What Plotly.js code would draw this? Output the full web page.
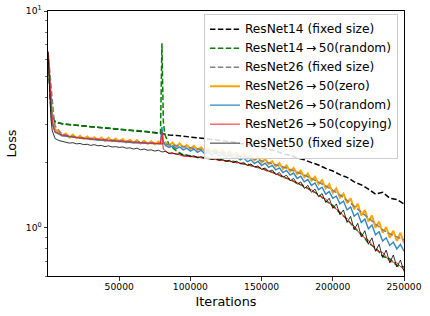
<!DOCTYPE html>
<html>
<head>
<meta charset="utf-8">
<script src="https://cdn.plot.ly/plotly-3.0.1.min.js"></script>
<style>
  html, body { margin: 0; padding: 0; background: #fff; }
  #chart { width: 430px; height: 316px; }
</style>
</head>
<body>
<div id="chart"></div>
<script>
// Evenly spaced iteration grid helper (x positions only)
function grid(start, stop, step) { const a = []; for (let v = start; v <= stop; v += step) a.push(v); return a; }
const warmup = [0, 1000, 2000, 3000, 4000];

// Iteration grids
const iters = warmup.concat(grid(5000, 250000, 5000));
const itersSwitch = warmup.concat(grid(5000, 75000, 5000), [79000, 80000, 81000, 82000], grid(85000, 250000, 5000));
const itersFine = warmup.concat(grid(5000, 250000, 2500));
const itersBlue = warmup.concat(grid(5000, 75000, 5000), [79000, 80000, 81000], grid(82500, 250000, 2500));

// Loss values
const resnet14Fixed = [6.3, 4.6, 3.6, 3.3, 3.15, 3.08, 3.02, 2.99, 2.97, 2.95, 2.93, 2.91, 2.89, 2.87, 2.86, 2.84, 2.82, 2.80, 2.78, 2.75, 2.72,
  2.68, 2.67, 2.64, 2.63, 2.60, 2.58, 2.56, 2.53, 2.51, 2.49, 2.45, 2.43, 2.38, 2.35, 2.30, 2.26, 2.20, 2.16, 2.10,
  2.06, 2.00, 1.95, 1.88, 1.83, 1.76, 1.71, 1.63, 1.58, 1.51, 1.43, 1.46, 1.37, 1.35, 1.29];

const resnet14to50Random = [6.3, 4.6, 3.6, 3.3, 3.15, 3.08, 3.02, 2.99, 2.97, 2.95, 2.93, 2.91, 2.89, 2.87, 2.86, 2.84, 2.82, 2.80, 2.78, 2.74,
  2.72, 7.1, 3.1, 2.7,
  2.42, 2.27, 2.17, 2.15, 2.11, 2.11, 2.07, 2.07, 2.03, 2.03, 1.98, 1.97, 1.91, 1.89, 1.82, 1.79, 1.71, 1.68, 1.60,
  1.56, 1.48, 1.43, 1.33, 1.27, 1.17, 1.10, 1.00, 0.94, 0.85, 0.81, 0.74, 0.72, 0.67, 0.66];

const resnet26Fixed = [6.5, 5.6, 4.7, 3.9, 3.3, 2.95, 2.70, 2.65, 2.62, 2.60, 2.58, 2.57, 2.55, 2.54, 2.53, 2.51, 2.50, 2.48, 2.47, 2.46, 2.45,
  2.42, 2.40, 2.37, 2.34, 2.31, 2.29, 2.26, 2.24, 2.21, 2.18, 2.15, 2.12, 2.08, 2.04, 2.00, 1.96, 1.91, 1.86, 1.81,
  1.75, 1.69, 1.63, 1.56, 1.49, 1.42, 1.34, 1.26, 1.18, 1.11, 1.04, 0.98, 0.94, 0.91, 0.88];

const resnet26to50Zero = [6.4, 5.0, 3.8, 3.2, 2.95,
  2.85, 2.76, 2.66, 2.72, 2.61, 2.69, 2.59, 2.66, 2.57, 2.64, 2.56, 2.62, 2.54, 2.61, 2.52, 2.60, 2.51, 2.58, 2.50, 2.57,
  2.48, 2.55, 2.47, 2.54, 2.45, 2.52, 2.44, 2.51, 2.43, 2.50, 2.44, 2.48, 2.40, 2.47, 2.37, 2.45, 2.35, 2.41, 2.31, 2.39,
  2.29, 2.35, 2.26, 2.33, 2.24, 2.30, 2.21, 2.28, 2.18, 2.25, 2.15, 2.22, 2.12, 2.19, 2.09, 2.15, 2.05, 2.12, 2.00, 2.08,
  1.97, 2.03, 1.92, 1.99, 1.87, 1.94, 1.82, 1.89, 1.77, 1.84, 1.71, 1.78, 1.65, 1.72, 1.59, 1.66, 1.52, 1.59, 1.45, 1.52,
  1.38, 1.44, 1.30, 1.37, 1.22, 1.29, 1.14, 1.21, 1.07, 1.14, 1.00, 1.07, 0.95, 1.01, 0.90, 0.97, 0.87, 0.95, 0.85];

const resnet26to50Random = [6.4, 4.8, 3.6, 3.05, 2.88,
  2.76, 2.66, 2.63, 2.60, 2.58, 2.56, 2.54, 2.53, 2.51, 2.50, 2.49, 2.47, 2.46, 2.45, 2.44,
  2.44, 2.92, 2.50,
  2.40, 2.35, 2.39, 2.32, 2.36, 2.29, 2.33, 2.26, 2.31, 2.23, 2.28, 2.20, 2.25, 2.17, 2.22, 2.15, 2.19, 2.12, 2.16, 2.09,
  2.13, 2.06, 2.10, 2.02, 2.06, 1.98, 2.03, 1.94, 1.99, 1.90, 1.94, 1.85, 1.89, 1.80, 1.84, 1.75, 1.79, 1.69, 1.73, 1.63,
  1.67, 1.57, 1.61, 1.50, 1.54, 1.43, 1.47, 1.37, 1.40, 1.29, 1.33, 1.21, 1.25, 1.13, 1.17, 1.06, 1.10, 0.99, 1.03, 0.93,
  0.96, 0.87, 0.90, 0.83, 0.86, 0.80, 0.84, 0.78];

const resnet26to50Copying = [6.4, 4.9, 3.7, 3.1, 2.9, 2.78, 2.68, 2.64, 2.61, 2.59, 2.57, 2.55, 2.54, 2.52, 2.51, 2.50, 2.48, 2.47, 2.46, 2.45,
  2.44, 2.78, 2.30, 2.28,
  2.20, 2.20, 2.14, 2.13, 2.12, 2.09, 2.08, 2.05, 2.04, 2.01, 1.99, 1.95, 1.92, 1.87, 1.83, 1.77, 1.73, 1.66, 1.62,
  1.54, 1.50, 1.41, 1.36, 1.25, 1.19, 1.08, 1.02, 0.92, 0.88, 0.79, 0.77, 0.70, 0.69, 0.64];

const resnet50Fixed = [6.5, 4.2, 3.2, 2.8, 2.65,
  2.58, 2.53, 2.50, 2.49, 2.46, 2.47, 2.44, 2.45, 2.42, 2.43, 2.40, 2.42, 2.39, 2.40, 2.37, 2.39, 2.36, 2.37, 2.35, 2.36,
  2.33, 2.34, 2.31, 2.33, 2.29, 2.31, 2.28, 2.29, 2.26, 2.28, 2.24, 2.25, 2.21, 2.22, 2.18, 2.20, 2.16, 2.17, 2.13, 2.15,
  2.11, 2.13, 2.09, 2.11, 2.07, 2.09, 2.05, 2.07, 2.03, 2.05, 2.00, 2.03, 1.98, 2.00, 1.94, 1.97, 1.91, 1.93, 1.86, 1.89,
  1.82, 1.85, 1.76, 1.80, 1.71, 1.75, 1.65, 1.69, 1.59, 1.63, 1.52, 1.57, 1.46, 1.51, 1.39, 1.44, 1.31, 1.37, 1.23, 1.29,
  1.15, 1.21, 1.06, 1.13, 0.98, 1.05, 0.91, 0.97, 0.84, 0.90, 0.78, 0.84, 0.73, 0.79, 0.69, 0.75, 0.66, 0.71, 0.63];

// Labels
const seriesNames = [
  "ResNet14 (fixed size)",
  "ResNet14\u2009\u2192\u200950(random)",
  "ResNet26 (fixed size)",
  "ResNet26\u2009\u2192\u200950(zero)",
  "ResNet26\u2009\u2192\u200950(random)",
  "ResNet26\u2009\u2192\u200950(copying)",
  "ResNet50 (fixed size)"
];
const xTickVals = [50000, 100000, 150000, 200000, 250000];
const xTickText = ["50000", "100000", "150000", "200000", "250000"];
const yTickVals = [1, 10];
const yTickText = ["10<sup>0</sup>", "10<sup>1</sup>"];
const yMinorVals = [0.6, 0.7, 0.8, 0.9, 2, 3, 4, 5, 6, 7, 8, 9];

const FONT = "DejaVu Sans, sans-serif";
const dash = "5.5px,2.4px";
const lg = s => '<span style="font-size:12.2px">' + s + '</span>';

const traces = [
  {x: iters, y: resnet14Fixed, name: lg(seriesNames[0]), legendrank: 1,
   line: {color: "#000000", width: 1.5, dash: dash}},
  {x: itersSwitch, y: resnet14to50Random, name: lg(seriesNames[1]), legendrank: 2,
   line: {color: "#008000", width: 1.5, dash: dash}},
  {x: itersFine, y: resnet26to50Zero, name: lg(seriesNames[3]), legendrank: 4,
   line: {color: "#FFA500", width: 2}},
  {x: iters, y: resnet26Fixed, name: lg(seriesNames[2]), legendrank: 3,
   line: {color: "#808080", width: 1.5, dash: dash}},
  {x: itersBlue, y: resnet26to50Random, name: lg(seriesNames[4]), legendrank: 5,
   line: {color: "#2f86c4", width: 1.4}},
  {x: itersSwitch, y: resnet26to50Copying, name: lg(seriesNames[5]), legendrank: 6,
   line: {color: "#ff2020", width: 1}},
  {x: itersFine, y: resnet50Fixed, name: lg(seriesNames[6]), legendrank: 7,
   line: {color: "#000000", width: 0.8}}
].map(t => Object.assign({type: "scatter", mode: "lines"}, t));

const layout = {
  width: 430, height: 316,
  margin: {l: 48, r: 26, t: 11, b: 40},
  paper_bgcolor: "#ffffff", plot_bgcolor: "#ffffff",
  font: {family: FONT, color: "#000000"},
  showlegend: true,
  legend: {
    x: 0.983, xanchor: "right", y: 0.99, yanchor: "top",
    bgcolor: "rgba(255,255,255,0.85)", bordercolor: "#cccccc", borderwidth: 1,
    font: {family: FONT, size: 10.2, color: "#000000"},
    tracegroupgap: 0, itemwidth: 30, traceorder: "normal"
  },
  xaxis: {
    range: [0, 250000], tickvals: xTickVals, ticktext: xTickText,
    ticks: "outside", ticklen: 3.5, tickwidth: 0.8, tickcolor: "#000",
    showline: true, mirror: true, linecolor: "#000", linewidth: 1,
    showgrid: false, zeroline: false, ticklabelstandoff: -2,
    tickfont: {family: FONT, size: 9.2, color: "#000"},
    title: {text: "Iterations", font: {family: FONT, size: 12.8, color: "#000"}, standoff: 6}
  },
  yaxis: {
    type: "log", range: [Math.log10(0.6), 1],
    tickvals: yTickVals, ticktext: yTickText,
    ticks: "outside", ticklen: 3.5, tickwidth: 0.8, tickcolor: "#000",
    minor: {tickvals: yMinorVals, ticks: "outside", ticklen: 2, tickwidth: 0.6, tickcolor: "#000", showgrid: false},
    showline: true, mirror: true, linecolor: "#000", linewidth: 1,
    showgrid: false, zeroline: false,
    tickfont: {family: FONT, size: 9.2, color: "#000"},
    title: {text: "Loss", font: {family: FONT, size: 12.8, color: "#000"}, standoff: 6}
  }
};

Plotly.newPlot("chart", traces, layout, {displayModeBar: false, staticPlot: true});
</script>
</body>
</html>
